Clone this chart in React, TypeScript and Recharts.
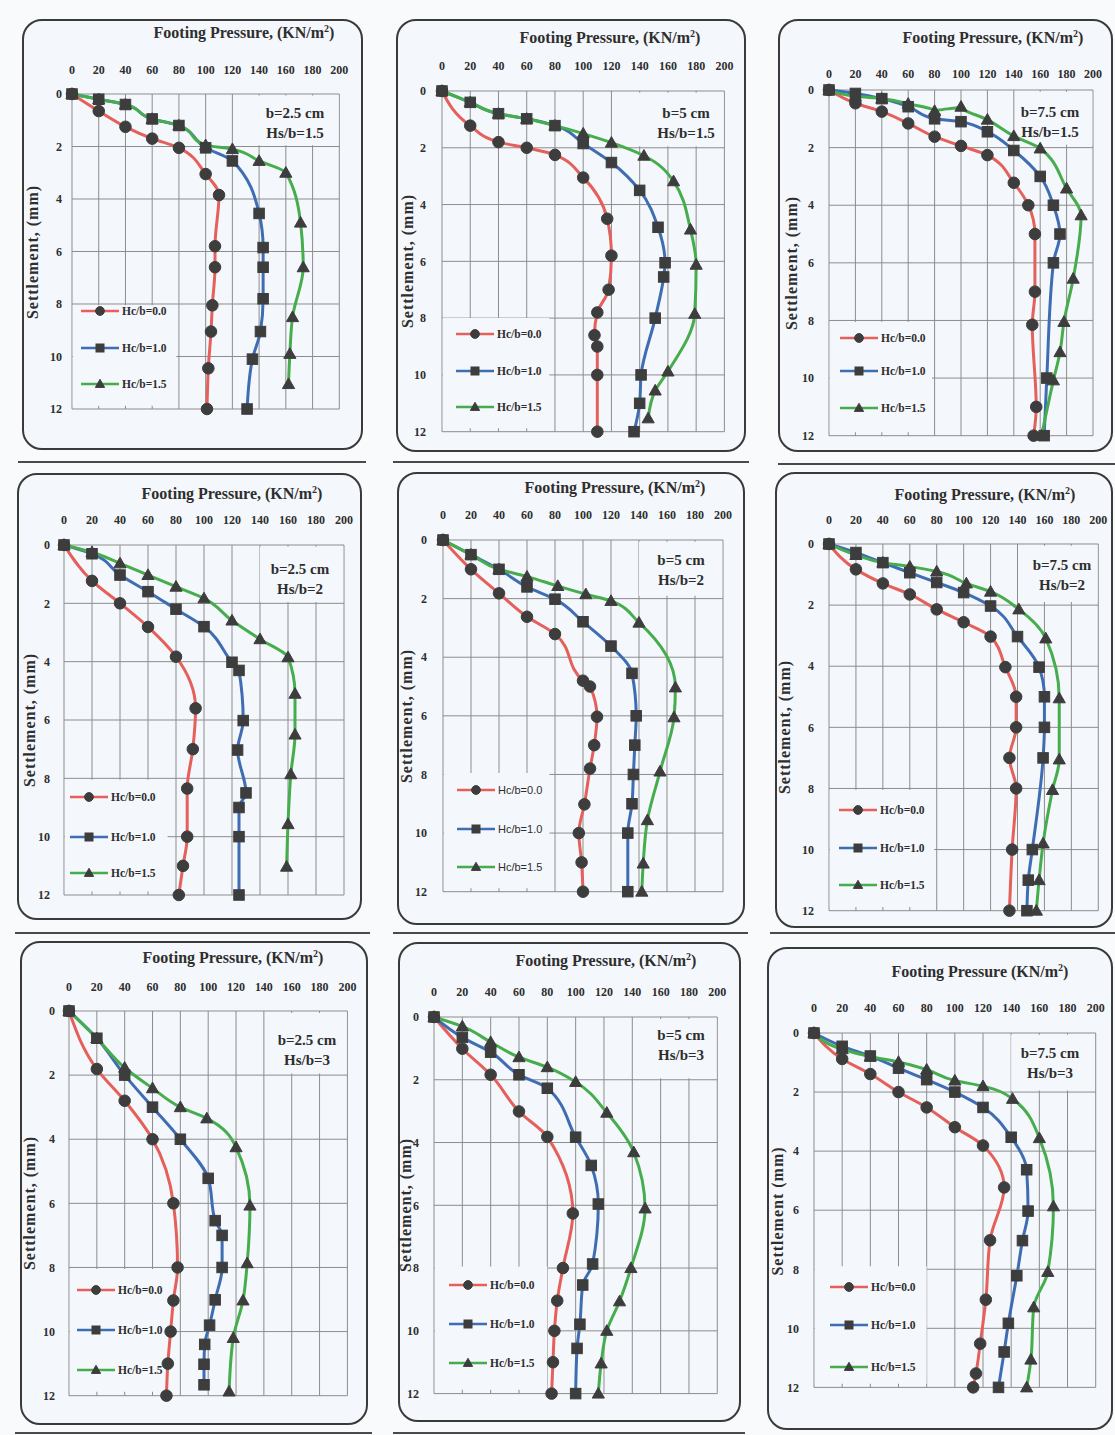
import { LineChart, Line, XAxis, YAxis, CartesianGrid, ReferenceArea } from 'recharts';

type Pt = [number, number];

const pressureTicks = [0, 20, 40, 60, 80, 100, 120, 140, 160, 180, 200];
const settlementTicks = [0, 2, 4, 6, 8, 10, 12];
const seriesNames = ['Hc/b=0.0', 'Hc/b=1.0', 'Hc/b=1.5'];
const seriesColors = ['#e5605a', '#3f6db3', '#46ad4d'];
const seriesShapes = ['circle', 'square', 'triangle'];

// [footing pressure, settlement]
// b=2.5 cm, Hs/b=1.5
const a1Hc00: Pt[] = [[0, 0], [20, 0.65], [40, 1.25], [60, 1.7], [80, 2.05], [100, 3.05], [110, 3.85], [107, 5.8], [107, 6.6], [105, 8.05], [104, 9.05], [102, 10.45], [101, 12]];
const a1Hc10: Pt[] = [[0, 0], [20, 0.2], [40, 0.4], [60, 0.95], [80, 1.2], [100, 2.05], [120, 2.55], [140, 4.55], [143, 5.85], [143, 6.6], [143, 7.8], [141, 9.05], [135, 10.1], [131, 12]];
const a1Hc15: Pt[] = [[0, 0], [20, 0.2], [40, 0.4], [60, 0.95], [80, 1.2], [100, 1.95], [120, 2.1], [140, 2.55], [160, 3.0], [171, 4.9], [173, 6.6], [165, 8.5], [163, 9.9], [162, 11.05]];

// b=5 cm, Hs/b=1.5
const a2Hc00: Pt[] = [[0, 0], [20, 1.22], [40, 1.8], [60, 2.0], [80, 2.25], [100, 3.05], [117, 4.5], [120, 5.8], [118, 7.0], [110, 7.8], [108, 8.6], [110, 9.0], [110, 10.0], [110, 12]];
const a2Hc10: Pt[] = [[0, 0], [20, 0.4], [40, 0.8], [60, 0.98], [80, 1.22], [100, 1.85], [120, 2.52], [140, 3.5], [153, 4.8], [158, 6.05], [157, 6.55], [151, 8.0], [141, 10.0], [140, 11.0], [136, 12]];
const a2Hc15: Pt[] = [[0, 0], [20, 0.4], [40, 0.8], [60, 0.98], [80, 1.22], [100, 1.5], [120, 1.82], [143, 2.28], [164, 3.18], [176, 4.88], [180, 6.12], [179, 7.85], [160, 9.88], [151, 10.55], [146, 11.53]];

// b=7.5 cm, Hs/b=1.5
const a3Hc00: Pt[] = [[0, 0], [20, 0.46], [40, 0.75], [60, 1.16], [80, 1.62], [100, 1.94], [120, 2.26], [140, 3.22], [151, 4.0], [156, 5.0], [156, 7.0], [154, 8.15], [157, 11.0], [155, 12]];
const a3Hc10: Pt[] = [[0, 0], [20, 0.12], [40, 0.3], [60, 0.58], [80, 1.0], [100, 1.1], [120, 1.45], [140, 2.1], [160, 3.0], [170, 4.0], [175, 5.0], [170, 6.0], [165, 10.0], [163, 12]];
const a3Hc15: Pt[] = [[0, 0], [20, 0.22], [40, 0.3], [60, 0.48], [80, 0.73], [100, 0.58], [120, 1.03], [140, 1.6], [160, 2.03], [180, 3.42], [191, 4.35], [185, 6.55], [178, 8.05], [175, 9.1], [170, 10.08], [161, 12]];

// b=2.5 cm, Hs/b=2
const a4Hc00: Pt[] = [[0, 0], [20, 1.23], [40, 2.0], [60, 2.81], [80, 3.83], [94, 5.6], [92, 7.0], [88, 8.35], [88, 10.0], [85, 11.0], [82, 12]];
const a4Hc10: Pt[] = [[0, 0], [20, 0.3], [40, 1.03], [60, 1.6], [80, 2.2], [100, 2.8], [120, 4.02], [125, 4.3], [128, 6.02], [124, 7.03], [130, 8.5], [125, 9.0], [125, 10.0], [125, 12]];
const a4Hc15: Pt[] = [[0, 0], [20, 0.25], [40, 0.63], [60, 1.03], [80, 1.43], [100, 1.83], [120, 2.59], [140, 3.23], [160, 3.85], [165, 5.1], [165, 6.5], [162, 7.86], [160, 9.57], [159, 11.03]];

// b=5 cm, Hs/b=2
const a5Hc00: Pt[] = [[0, 0], [20, 1.0], [40, 1.82], [60, 2.62], [80, 3.21], [100, 4.8], [105, 5.0], [110, 6.03], [108, 7.0], [105, 7.8], [101, 9.02], [97, 10.0], [99, 11.0], [100, 12]];
const a5Hc10: Pt[] = [[0, 0], [20, 0.5], [40, 1.0], [60, 1.6], [80, 2.02], [100, 2.79], [120, 3.62], [135, 4.55], [138, 6.0], [137, 7.0], [136, 8.0], [135, 9.0], [132, 10.0], [132, 12]];
const a5Hc15: Pt[] = [[0, 0], [20, 0.5], [40, 1.0], [60, 1.25], [82, 1.57], [102, 1.85], [120, 2.08], [140, 2.82], [166, 5.03], [165, 6.05], [155, 7.9], [146, 9.56], [143, 11.04], [142, 12]];

// b=7.5 cm, Hs/b=2
const a6Hc00: Pt[] = [[0, 0], [20, 0.83], [40, 1.29], [60, 1.65], [80, 2.14], [100, 2.56], [120, 3.03], [131, 4.03], [139, 5.0], [139, 6.0], [134, 7.0], [139, 8.0], [136, 10.0], [134, 12]];
const a6Hc10: Pt[] = [[0, 0], [20, 0.28], [40, 0.61], [60, 0.94], [80, 1.26], [100, 1.59], [120, 2.03], [140, 3.03], [156, 4.03], [160, 5.0], [160, 6.0], [159, 7.0], [151, 10.0], [148, 11.0], [147, 12]];
const a6Hc15: Pt[] = [[0, 0], [20, 0.36], [40, 0.61], [60, 0.74], [80, 0.9], [102, 1.29], [120, 1.56], [141, 2.14], [161, 3.09], [171, 5.05], [171, 7.05], [166, 8.05], [159, 9.8], [156, 11.0], [154, 12]];

// b=2.5 cm, Hs/b=3
const a7Hc00: Pt[] = [[0, 0], [20, 1.81], [40, 2.8], [60, 4.0], [75, 6.0], [78, 8.0], [75, 9.03], [73, 10.0], [71, 11.0], [70, 12]];
const a7Hc10: Pt[] = [[0, 0], [20, 0.85], [40, 2.0], [60, 3.0], [80, 4.0], [100, 5.22], [105, 6.54], [110, 7.0], [110, 8.0], [105, 9.01], [101, 9.8], [97.5, 10.4], [97, 11.02], [97, 11.66]];
const a7Hc15: Pt[] = [[0, 0], [20, 0.85], [40, 1.77], [60, 2.41], [80, 3.0], [99, 3.35], [120, 4.25], [130, 6.07], [128, 7.87], [125, 9.03], [118, 10.2], [115, 11.87]];

// b=5 cm, Hs/b=3
const a8Hc00: Pt[] = [[0, 0], [20, 1.01], [40, 1.84], [60, 3.01], [80, 3.82], [98, 6.26], [91, 8.0], [87, 9.04], [85, 10.0], [84, 11.0], [83, 12]];
const a8Hc10: Pt[] = [[0, 0], [20, 0.65], [40, 1.12], [60, 1.84], [80, 2.27], [100, 3.83], [111, 4.73], [116, 5.96], [112, 7.87], [105, 8.54], [103, 9.79], [101, 10.56], [100, 12]];
const a8Hc15: Pt[] = [[0, 0], [20, 0.3], [40, 0.8], [60, 1.28], [80, 1.6], [100, 2.07], [122, 3.05], [141, 4.31], [149, 6.1], [139, 8.0], [131, 9.06], [122, 10.0], [118, 11.04], [116, 12]];

// b=7.5 cm, Hs/b=3
const a9Hc00: Pt[] = [[0, 0], [20, 0.88], [40, 1.39], [60, 2.0], [80, 2.52], [100, 3.19], [120, 3.81], [135, 5.23], [125, 7.02], [122, 9.03], [118, 10.52], [115, 11.53], [113, 12]];
const a9Hc10: Pt[] = [[0, 0], [20, 0.45], [40, 0.78], [60, 1.19], [80, 1.58], [100, 2.0], [120, 2.52], [140, 3.53], [151, 4.63], [152, 6.03], [148, 7.03], [144, 8.22], [138, 9.83], [135, 10.8], [131, 12]];
const a9Hc15: Pt[] = [[0, 0], [20, 0.55], [40, 0.8], [60, 0.98], [80, 1.24], [100, 1.61], [120, 1.8], [141, 2.23], [160, 3.56], [170, 5.87], [166, 8.09], [156, 9.29], [154, 11.06], [151, 12]];

const SERIF = '"Liberation Serif", "Times New Roman", serif';
const SANS = '"Liberation Sans", Arial, sans-serif';
const PANEL_BG = '#f4f7fb';
const INK = '#2e2e2e';
const MARK = '#3d3d3d';

const panels = [
  { series: [a1Hc00, a1Hc10, a1Hc15], box: [22, 19, 341, 431], plot: [71.7, 339, 94.3, 409.3], title: [244, 33], comma: true, yLab: 33, xGap: 20, yGap: 10, label: ['b=2.5 cm', 'Hs/b=1.5'], lab: [295, 113], leg: [311, 348, 384], legX: 81, legSans: false, legMask: [78, 8.05], txtMask: [137, 1.95] },
  { series: [a2Hc00, a2Hc10, a2Hc15], box: [396, 19, 350, 433], plot: [442.3, 724.7, 91, 431.7], title: [610, 38], comma: true, yLab: 408, xGap: 21, yGap: 16, label: ['b=5 cm', 'Hs/b=1.5'], lab: [686, 113], leg: [334, 371, 407], legX: 456, legSans: false, legMask: [76, 8.0], txtMask: [135, 1.95] },
  { series: [a3Hc00, a3Hc10, a3Hc15], box: [778, 19, 335, 433], plot: [829.3, 1093.3, 90, 435.7], title: [993, 38], comma: true, yLab: 792, xGap: 12, yGap: 15, label: ['b=7.5 cm', 'Hs/b=1.5'], lab: [1050, 112], leg: [338, 371, 408], legX: 840, legSans: false, legMask: [78, 8.05], txtMask: [148, 1.9] },
  { series: [a4Hc00, a4Hc10, a4Hc15], box: [17, 473, 345, 447], plot: [64.3, 344.3, 545, 895], title: [232, 494], comma: true, yLab: 30, xGap: 21, yGap: 14, label: ['b=2.5 cm', 'Hs/b=2'], lab: [300, 569], leg: [797, 837, 873], legX: 70, legSans: false, legMask: [74, 8.05], txtMask: [140, 1.95] },
  { series: [a5Hc00, a5Hc10, a5Hc15], box: [397, 472, 348, 453], plot: [443.3, 723.3, 540, 891.7], title: [615, 488], comma: true, yLab: 407, xGap: 21, yGap: 16, label: ['b=5 cm', 'Hs/b=2'], lab: [681, 560], leg: [790, 829, 867], legX: 457, legSans: true, legMask: [76, 7.95], txtMask: [140, 1.9] },
  { series: [a6Hc00, a6Hc10, a6Hc15], box: [775, 472, 338, 456], plot: [828.7, 1098, 544, 910.7], title: [985, 495], comma: true, yLab: 785, xGap: 20, yGap: 15, label: ['b=7.5 cm', 'Hs/b=2'], lab: [1062, 565], leg: [810, 848, 885], legX: 839, legSans: false, legMask: [78, 8.05], txtMask: [142, 1.9] },
  { series: [a7Hc00, a7Hc10, a7Hc15], box: [20, 941, 348, 484], plot: [69.3, 347.7, 1011, 1395.7], title: [233, 958], comma: true, yLab: 30, xGap: 20, yGap: 14, label: ['b=2.5 cm', 'Hs/b=3'], lab: [307, 1040], leg: [1290, 1330, 1370], legX: 77, legSans: false, legMask: [72, 8.05], txtMask: [145, 1.95] },
  { series: [a8Hc00, a8Hc10, a8Hc15], box: [398, 942, 343, 480], plot: [434, 717.3, 1016.7, 1393.3], title: [606, 961], comma: true, yLab: 406, xGap: 21, yGap: 15, label: ['b=5 cm', 'Hs/b=3'], lab: [681, 1035], leg: [1285, 1324, 1363], legX: 449, legSans: false, legMask: [80, 7.95], txtMask: [145, 1.95] },
  { series: [a9Hc00, a9Hc10, a9Hc15], box: [767, 947, 346, 483], plot: [814.3, 1096, 1033.3, 1387.7], title: [980, 972], comma: false, yLab: 778, xGap: 21, yGap: 15, label: ['b=7.5 cm', 'Hs/b=3'], lab: [1050, 1053], leg: [1287, 1325, 1367], legX: 830, legSans: false, legMask: [80, 7.9], txtMask: [140, 1.95] },
];

const separators = [
  [18, 461, 348], [393, 461, 356], [778, 463, 337],
  [15, 932, 355], [393, 932, 355], [770, 932, 345],
  [15, 1432, 357], [393, 1432, 352],
];

const Marker = ({ shape, cx, cy, s }: { shape: string; cx: number; cy: number; s: number }) => {
  if (shape === 'circle') return <circle cx={cx} cy={cy} r={s * 0.55} fill={MARK} stroke={MARK} />;
  if (shape === 'square') return <rect x={cx - s / 2} y={cy - s / 2} width={s} height={s} fill={MARK} stroke={MARK} />;
  const h = s * 0.95;
  return <polygon points={`${cx},${cy - h * 0.62} ${cx - s * 0.58},${cy + h * 0.45} ${cx + s * 0.58},${cy + h * 0.45}`} fill={MARK} stroke={MARK} />;
};

const makeDot = (shape: string) => (props: any) => {
  const { cx, cy, index } = props;
  if (cx == null || cy == null) return <g key={index} />;
  return <g key={index}><Marker shape={shape} cx={cx} cy={cy} s={10.5} /></g>;
};

const tickStyle = { fontSize: 12, fontWeight: 700, fontFamily: SERIF, fill: INK };

const Panel = ({ cfg }: { cfg: (typeof panels)[number] }) => {
  const [bx, by, bw, bh] = cfg.box;
  const [x0, x1, y0, y1] = cfg.plot;
  const axisW = 44;
  const axisH = 36;
  const pad = 12;
  const rows = cfg.series.map((pts) => pts.map(([p, s]) => ({ p, s })));
  return (
    <>
      <div style={{ position: 'absolute', left: bx, top: by, width: bw, height: bh, border: '2px solid #3a3a3a', borderRadius: 20, background: PANEL_BG, boxSizing: 'border-box' }} />
      <div style={{ position: 'absolute', left: x0 - axisW, top: y0 - axisH }}>
        <LineChart width={x1 - x0 + axisW + pad} height={y1 - y0 + axisH + pad} margin={{ top: 0, left: 0, right: pad, bottom: pad }}>
          <CartesianGrid stroke="#8d8d8d" strokeWidth={1} />
          <ReferenceArea x1={0.6} x2={cfg.legMask[0]} y1={cfg.legMask[1]} y2={11.88} fill={PANEL_BG} fillOpacity={1} stroke="none" />
          <ReferenceArea x1={cfg.txtMask[0]} x2={199.4} y1={0.06} y2={cfg.txtMask[1]} fill={PANEL_BG} fillOpacity={1} stroke="none" />
          <XAxis type="number" dataKey="p" orientation="top" domain={[0, 200]} ticks={pressureTicks} interval={0} height={axisH} axisLine={false} tickLine={false} tickSize={0} tickMargin={cfg.xGap} tick={tickStyle} />
          <YAxis type="number" domain={[0, 12]} reversed ticks={settlementTicks} interval={0} width={axisW} axisLine={false} tickLine={false} tickSize={0} tickMargin={cfg.yGap} tick={tickStyle} />
          {rows.map((data, i) => (
            <Line key={seriesNames[i]} name={seriesNames[i]} data={data} dataKey="s" type="monotoneY" stroke={seriesColors[i]} strokeWidth={3} dot={makeDot(seriesShapes[i])} activeDot={false} isAnimationActive={false} />
          ))}
        </LineChart>
      </div>
      <div style={{ position: 'absolute', left: cfg.title[0] - 150, top: cfg.title[1] - 11, width: 300, textAlign: 'center', fontFamily: SERIF, fontWeight: 700, fontSize: 16, lineHeight: '22px', color: INK, whiteSpace: 'nowrap' }}>
        {cfg.comma ? 'Footing Pressure, (KN/m' : 'Footing Pressure (KN/m'}<sup style={{ fontSize: 10, lineHeight: 0 }}>2</sup>)
      </div>
      <div style={{ position: 'absolute', left: cfg.yLab - 100, top: (y0 + y1) / 2 - 11, width: 200, textAlign: 'center', fontFamily: SERIF, fontWeight: 700, fontSize: 16, letterSpacing: 1, lineHeight: '22px', color: INK, transform: 'rotate(-90deg)', whiteSpace: 'nowrap' }}>
        {cfg.comma ? 'Settlement, (mm)' : 'Settlement (mm)'}
      </div>
      {cfg.label.map((t, i) => (
        <div key={t} style={{ position: 'absolute', left: cfg.lab[0] - 60, top: cfg.lab[1] + i * 20 - 10, width: 120, textAlign: 'center', fontFamily: SERIF, fontWeight: 700, fontSize: 15, lineHeight: '20px', color: INK }}>
          {t}
        </div>
      ))}
      {seriesNames.map((n, i) => (
        <div key={n} style={{ position: 'absolute', left: cfg.legX, top: cfg.leg[i] - 8, height: 16, display: 'flex', alignItems: 'center' }}>
          <svg width={38} height={16} style={{ display: 'block' }}>
            <line x1={0} y1={8} x2={38} y2={8} stroke={seriesColors[i]} strokeWidth={2.5} />
            <Marker shape={seriesShapes[i]} cx={19} cy={8} s={8} />
          </svg>
          <span style={{ marginLeft: 3, fontFamily: cfg.legSans ? SANS : SERIF, fontWeight: cfg.legSans ? 400 : 700, fontSize: cfg.legSans ? 11 : 11.5, color: INK, whiteSpace: 'nowrap' }}>{n}</span>
        </div>
      ))}
    </>
  );
};

export default function App() {
  return (
    <div style={{ position: 'absolute', left: 0, top: 0, width: 1115, height: 1435, background: '#f8fafc', overflow: 'hidden' }}>
      {separators.map(([x, y, w], i) => (
        <div key={i} style={{ position: 'absolute', left: x, top: y, width: w, height: 2, background: '#4a4a4a' }} />
      ))}
      {panels.map((cfg, i) => (
        <Panel key={i} cfg={cfg} />
      ))}
    </div>
  );
}
